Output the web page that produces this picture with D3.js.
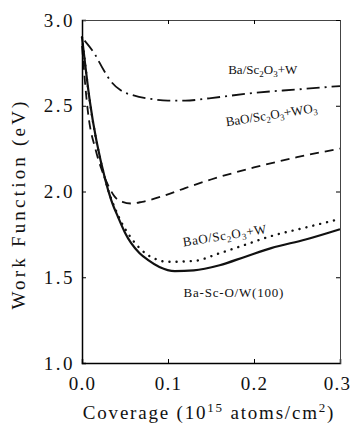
<!DOCTYPE html>
<html>
<head>
<meta charset="utf-8">
<script src="https://cdn.jsdelivr.net/npm/d3@7"></script>
<style>
  html, body { margin: 0; padding: 0; background: #fff; }
  svg { display: block; }
</style>
</head>
<body>
<svg id="chart" width="353" height="429"></svg>
<script>
// Work function vs coverage — four surfaces
var X_TICKS = [0.0, 0.1, 0.2, 0.3];
var Y_TICKS = [1.0, 1.5, 2.0, 2.5, 3.0];

// Ba/Sc2O3+W (dash-dot)
var baScX = [0.003, 0.015, 0.025, 0.034, 0.045, 0.06, 0.08, 0.1, 0.12, 0.15, 0.2, 0.25, 0.3];
var baScY = [2.88, 2.80, 2.71, 2.64, 2.59, 2.56, 2.54, 2.53, 2.53, 2.545, 2.575, 2.595, 2.615];

// BaO/Sc2O3+WO3 (dashed)
var baoWO3X = [0.0, 0.007, 0.016, 0.022, 0.03, 0.038, 0.047, 0.057, 0.07, 0.092, 0.12, 0.15, 0.2, 0.25, 0.3];
var baoWO3Y = [2.85, 2.46, 2.24, 2.14, 2.04, 1.97, 1.94, 1.93, 1.94, 1.97, 2.02, 2.07, 2.14, 2.2, 2.25];

// BaO/Sc2O3+W (dotted)
var baoWX = [0.0, 0.009, 0.027, 0.042, 0.057, 0.069, 0.086, 0.1, 0.13, 0.16, 0.19, 0.22, 0.26, 0.3];
var baoWY = [2.9, 2.53, 2.07, 1.86, 1.73, 1.66, 1.605, 1.59, 1.595, 1.64, 1.69, 1.74, 1.79, 1.84];

// Ba-Sc-O/W(100) (solid)
var bscoX = [0.0, 0.009, 0.027, 0.034, 0.042, 0.05, 0.057, 0.067, 0.077, 0.09, 0.108, 0.13, 0.16, 0.19, 0.22, 0.26, 0.3];
var bscoY = [2.9, 2.53, 2.07, 1.95, 1.85, 1.76, 1.70, 1.64, 1.60, 1.56, 1.536, 1.54, 1.57, 1.62, 1.67, 1.72, 1.78];

var FONT = "'Liberation Serif', 'DejaVu Serif', serif";
var svg = d3.select("#chart");
var L = 82, R = 340, T = 20, B = 363;

var x = d3.scaleLinear().domain([0, 0.3]).range([L, R]);
var y = d3.scaleLinear().domain([1.0, 3.0]).range([B, T]);

var line = d3.line()
  .x(function (d) { return x(d[0]); })
  .y(function (d) { return y(d[1]); })
  .curve(d3.curveMonotoneX);

function pts(xs, ys) { return xs.map(function (v, i) { return [v, ys[i]]; }); }

var series = [
  { data: pts(baScX, baScY),     dash: "13,5,2,5", width: 1.8, cap: "butt" },
  { data: pts(baoWO3X, baoWO3Y), dash: "9,6",      width: 1.8, cap: "butt" },
  { data: pts(baoWX, baoWY),     dash: "0.1,7",    width: 2.4, cap: "round" },
  { data: pts(bscoX, bscoY),     dash: null,       width: 2.2, cap: "butt" }
];

var plot = svg.append("g");
series.forEach(function (s) {
  plot.append("path")
    .attr("d", line(s.data))
    .attr("fill", "none")
    .attr("stroke", "#111")
    .attr("stroke-width", s.width)
    .attr("stroke-linecap", s.cap)
    .attr("stroke-dasharray", s.dash);
});

function styleTicks(g, spacing) {
  g.selectAll("text")
    .style("font-family", FONT).style("font-size", "19px")
    .style("letter-spacing", spacing + "px").attr("fill", "#111");
}

// frame + inward ticks
svg.append("g").attr("transform", "translate(0," + B + ")")
  .call(d3.axisBottom(x).tickValues(X_TICKS).tickSize(-4).tickFormat(d3.format(".1f")).tickPadding(9))
  .call(function (g) {
    g.select(".domain").attr("stroke-width", 1.5);
    styleTicks(g, 1.2);
    g.selectAll("text").attr("dy", "0.95em")
      .attr("x", function (d, i, n) { return i === n.length - 1 ? -3 : 0; });
  });
svg.append("g").attr("transform", "translate(" + L + ",0)")
  .call(d3.axisLeft(y).tickValues(Y_TICKS).tickSize(-4).tickFormat(d3.format(".1f")).tickPadding(7))
  .call(function (g) {
    g.select(".domain").attr("stroke-width", 1.5);
    styleTicks(g, 2.5);
  });
svg.append("g").attr("transform", "translate(0," + T + ")")
  .call(d3.axisTop(x).tickValues(X_TICKS).tickSize(-4).tickFormat(""))
  .call(function (g) { g.select(".domain").attr("stroke", "#444"); });
svg.append("g").attr("transform", "translate(" + R + ",0)")
  .call(d3.axisRight(y).tickValues(Y_TICKS).tickSize(-4).tickFormat(""))
  .call(function (g) { g.select(".domain").attr("stroke", "#444"); });

// curve labels: pieces of [text, "sub" | "back"]
function label(parts, px, py, angle, spacing) {
  var t = svg.append("text")
    .attr("transform", "translate(" + px + "," + py + ") rotate(" + angle + ")")
    .style("font-family", FONT).style("font-size", "13px")
    .style("letter-spacing", (spacing || 0) + "px").attr("fill", "#111");
  parts.forEach(function (p) {
    var s = t.append("tspan").text(p[0]);
    if (p[1] === "sub") s.style("font-size", "9px").attr("dy", 3);
    else if (p[1] === "back") s.attr("dy", -3);
  });
  return t;
}
label([["Ba/Sc"], ["2", "sub"], ["O", "back"], ["3", "sub"], ["+W", "back"]], x(0.17), y(2.685), 0);
label([["BaO/Sc"], ["2", "sub"], ["O", "back"], ["3", "sub"], ["+WO", "back"], ["3", "sub"]], x(0.168), y(2.38), -9);
label([["BaO/Sc"], ["2", "sub"], ["O", "back"], ["3", "sub"], ["+W", "back"]], x(0.118), y(1.68), -9, 0.6);
label([["Ba-Sc-O/W(100)"]], x(0.118), y(1.385), 0, 0.8);

// axis titles
var xt = svg.append("text").attr("x", (L + R) / 2 - 2).attr("y", 419)
  .attr("text-anchor", "middle").attr("fill", "#111")
  .style("font-family", FONT).style("font-size", "19px").style("letter-spacing", "1.8px");
xt.append("tspan").text("Coverage (10");
xt.append("tspan").text("15").style("font-size", "13px").attr("dy", -7);
xt.append("tspan").text(" atoms/cm").attr("dy", 7);
xt.append("tspan").text("2").style("font-size", "13px").attr("dy", -7);
xt.append("tspan").text(")").attr("dy", 7);

svg.append("text")
  .attr("transform", "translate(25,204) rotate(-90)")
  .attr("text-anchor", "middle").attr("fill", "#111")
  .style("font-family", FONT).style("font-size", "19px").style("letter-spacing", "3.2px")
  .text("Work Function (eV)");
</script>
</body>
</html>
